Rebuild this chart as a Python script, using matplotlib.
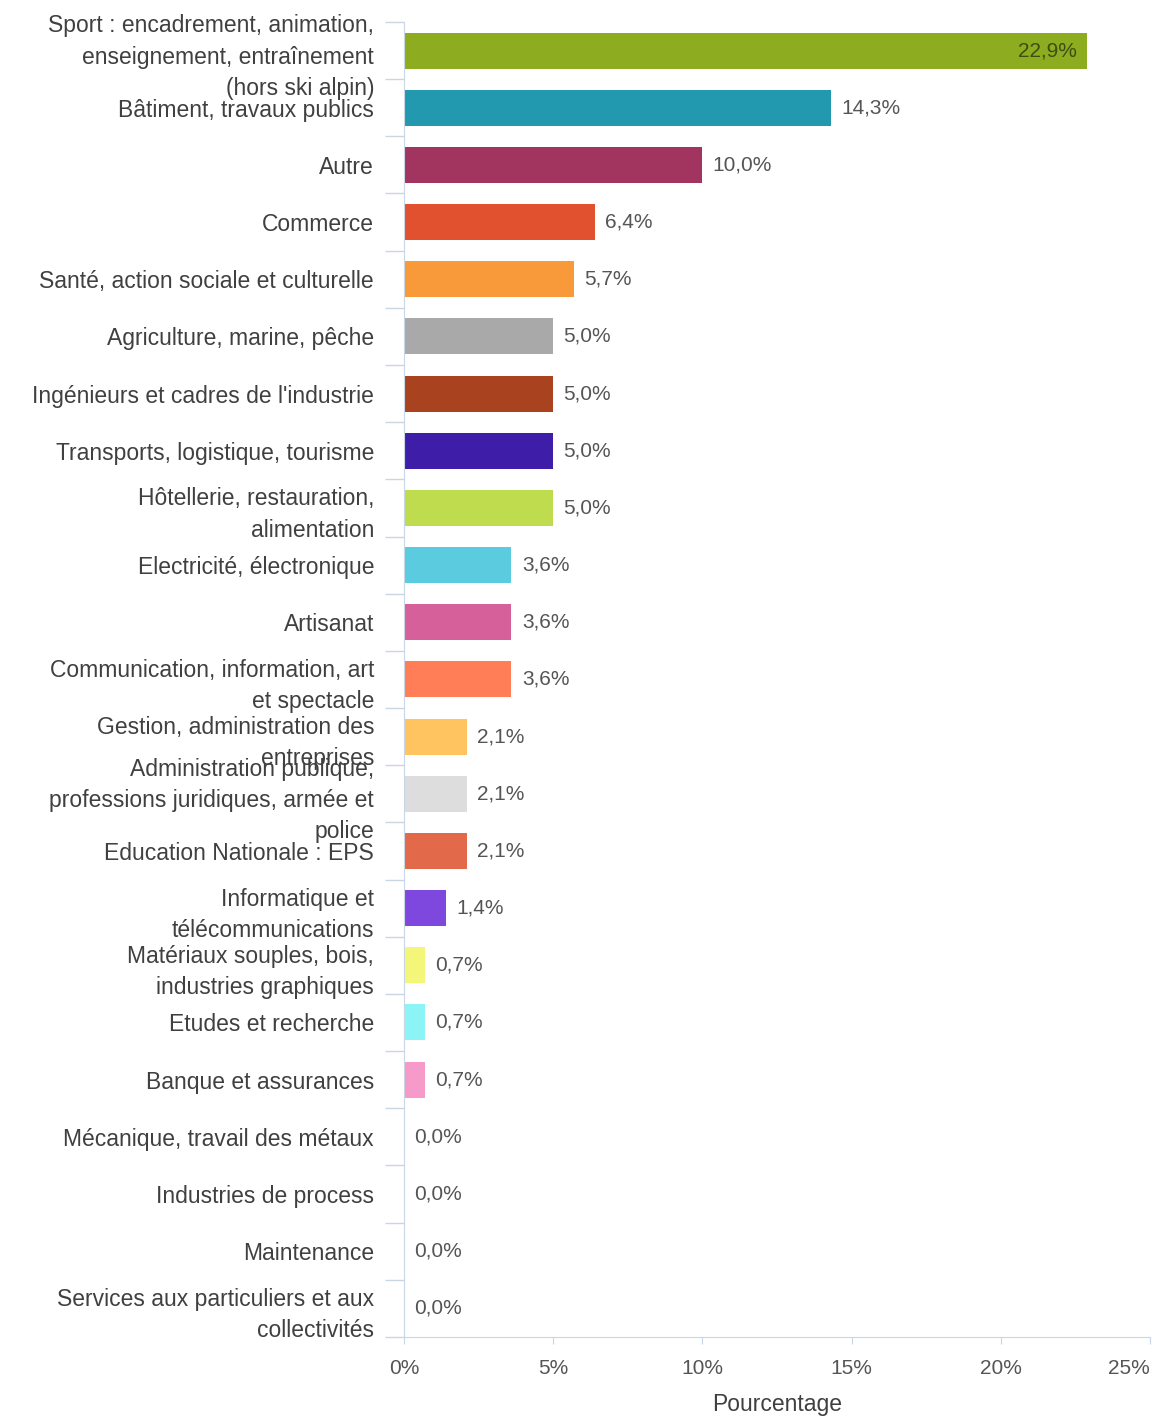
import matplotlib
matplotlib.use("Agg")
from matplotlib import pyplot as plt
from matplotlib.ticker import FuncFormatter

categories = [
    "Sport : encadrement, animation,\nenseignement, entraînement\n(hors ski alpin)",
    "Bâtiment, travaux publics",
    "Autre",
    "Commerce",
    "Santé, action sociale et culturelle",
    "Agriculture, marine, pêche",
    "Ingénieurs et cadres de l'industrie",
    "Transports, logistique, tourisme",
    "Hôtellerie, restauration,\nalimentation",
    "Electricité, électronique",
    "Artisanat",
    "Communication, information, art\net spectacle",
    "Gestion, administration des\nentreprises",
    "Administration publique,\nprofessions juridiques, armée et\npolice",
    "Education Nationale : EPS",
    "Informatique et\ntélécommunications",
    "Matériaux souples, bois,\nindustries graphiques",
    "Etudes et recherche",
    "Banque et assurances",
    "Mécanique, travail des métaux",
    "Industries de process",
    "Maintenance",
    "Services aux particuliers et aux\ncollectivités",
]
values = [22.9, 14.3, 10.0, 6.4, 5.7, 5.0, 5.0, 5.0, 5.0, 3.6, 3.6, 3.6,
          2.1, 2.1, 2.1, 1.4, 0.7, 0.7, 0.7, 0.0, 0.0, 0.0, 0.0]
colors = ["#8DAC1F", "#2299AE", "#A1355F", "#E1502F", "#F89A3A", "#A9A9A9",
          "#A9421F", "#3E1EA8", "#BEDC4E", "#5BCBE0", "#D6609A", "#FF7E58",
          "#FFC45F", "#DDDDDD", "#E2694A", "#7E48DE", "#F4F67A", "#8DF4F6",
          "#F69BC9", "#999999", "#999999", "#999999", "#999999"]
x_ticks = [0, 5, 10, 15, 20, 25]


def main():
    plt.rcParams["font.family"] = ["Liberation Sans", "DejaVu Sans"]
    fig = plt.figure(figsize=(11.53, 14.17), dpi=100)
    ax = fig.add_axes([0.3504, 0.0565, 0.6470, 0.9280])

    pos = list(range(len(categories)))
    ax.barh(pos, values, height=0.63, color=colors)
    ax.set_ylim(len(categories) - 0.5, -0.5)
    ax.set_xlim(0, 25)

    for i, v in enumerate(values):
        txt = f"{v:.1f}%".replace(".", ",")
        if i == 0:
            ax.text(v - 0.35, i, txt, ha="right", va="center",
                    fontsize=15, color="#3E4E12")
        else:
            ax.text(v + 0.35, i, txt, ha="left", va="center",
                    fontsize=15, color="#555555")

    ax.set_yticks(pos)
    ax.set_yticklabels(categories, fontsize=16.5, color="#404040",
                       linespacing=1.46)
    ax.tick_params(axis="y", length=0, pad=21.6)
    # tick marks between categories
    ax.set_yticks([p + 0.5 for p in [-1] + pos], minor=True)
    ax.tick_params(axis="y", which="minor", length=14, color="#C8D6E6",
                   width=1)

    ax.set_xticks(x_ticks)
    ax.xaxis.set_major_formatter(FuncFormatter(lambda x, _: f"{x:.0f}%"))
    ax.tick_params(axis="x", length=5, color="#C8D6E6", labelsize=15,
                   labelcolor="#555555", pad=11)
    xlabels = ax.get_xticklabels()
    xlabels[-1].set_horizontalalignment("right")
    ax.set_xlabel("Pourcentage", fontsize=16.5, color="#404040", labelpad=11)

    for side in ["top", "right"]:
        ax.spines[side].set_visible(False)
    ax.spines["left"].set_color("#C8D6E6")
    ax.spines["bottom"].set_color("#C8D6E6")

    fig.savefig("out.png", dpi=100)


if __name__ == '__main__':
    main()
